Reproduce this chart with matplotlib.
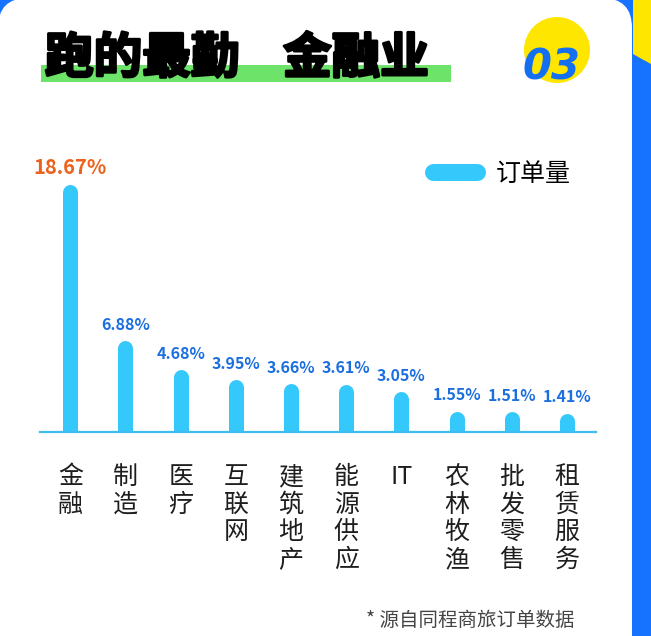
import matplotlib
matplotlib.use("Agg")
import matplotlib.pyplot as plt
from matplotlib.patches import FancyBboxPatch, Circle, Polygon, Rectangle
from matplotlib.lines import Line2D
from matplotlib.transforms import ScaledTranslation
import matplotlib.patheffects as pe

plt.rcParams['font.family'] = ['Noto Sans CJK SC', 'DejaVu Sans']

# ---------------- data ----------------
categories = ["金融", "制造", "医疗", "互联网", "建筑地产", "能源供应", "IT", "农林牧渔", "批发零售", "租赁服务"]
values = [18.67, 6.88, 4.68, 3.95, 3.66, 3.61, 3.05, 1.55, 1.51, 1.41]
series_name = "订单量"
title_left = "跑的最勤"
title_right = "金融业"
badge = "03"
footnote = "* 源自同程商旅订单数据"

W, H = 651, 636
DPI = 100
fig = plt.figure(figsize=(W / DPI, H / DPI), dpi=DPI)
fig.patch.set_facecolor("#1673ff")

# overlay axes in pixel coordinates for decoration
deco = fig.add_axes([0, 0, 1, 1], zorder=0)
deco.set_xlim(0, W)
deco.set_ylim(H, 0)
deco.axis("off")

# white card
deco.add_patch(FancyBboxPatch((-2, -2), 634, 700, boxstyle="round,pad=0,rounding_size=30",
                              fc="white", ec="none"))
# right strip yellow top
deco.add_patch(Polygon([(633, 0), (651, 0), (651, 64), (640, 58), (633, 54)], closed=True,
                       fc="#ffe600", ec="none"))
# yellow circle behind badge
deco.add_patch(Circle((557, 50), 33, fc="#ffe600", ec="none"))
# green highlight under title
deco.add_patch(Rectangle((41, 65), 410, 17, fc="#6de36a", ec="none"))

# title
stroke = [pe.withStroke(linewidth=2.0, foreground="black")]
deco.text(45, 73, title_left, fontsize=35, fontweight="heavy", color="black",
          va="baseline", ha="left", path_effects=stroke)
deco.text(283, 73, title_right, fontsize=35, fontweight="heavy", color="black",
          va="baseline", ha="left", path_effects=stroke)
# badge
deco.text(551, 80, badge, fontsize=30, fontweight="heavy", fontstyle="italic",
          family="DejaVu Sans", color="#1470f0", ha="center", va="baseline")
# footnote
deco.text(575, 626, footnote, fontsize=14, color="#444444", ha="right", va="baseline")

# ---------------- chart axes ----------------
px_left, px_right = 40, 596
px_base, px_top = 432, 140
ax = fig.add_axes([px_left / W, 1 - px_base / H, (px_right - px_left) / W, (px_base - px_top) / H],
                  zorder=2)
ax.patch.set_alpha(0)
pitch = 55.2
ax.set_xlim((px_left - 70.3) / pitch, 9 + (px_right - 567) / pitch)
ax.set_ylim(0, (px_base - px_top) / 13.25)
for s in ax.spines.values():
    s.set_visible(False)
ax.set_xticks([])
ax.set_yticks([])

x = list(range(len(values)))
bar_color = "#35c8fb"
bar_px = 15
cap_shift = ScaledTranslation(0, -bar_px / 2 / DPI, fig.dpi_scale_trans)
ax.vlines(x, 0, values, colors=bar_color, linewidth=bar_px * 72 / DPI,
          capstyle="round", transform=ax.transData + cap_shift, label=series_name)
ax.axhline(0, color="#3dbdf0", linewidth=1.6, clip_on=False)

for i, v in enumerate(values):
    first = i == 0
    ax.annotate(f"{v:.2f}%", (i, v), xytext=(0, 11), textcoords="offset pixels",
                ha="center", va="baseline", fontweight="bold",
                fontsize=14.5 if first else 11.5,
                color="#ec621c" if first else "#1b6fdf")
    ax.annotate("\n".join(categories[i]) if categories[i] != "IT" else "IT",
                (i, 0), xytext=(0, -32), textcoords="offset pixels",
                ha="center", va="top", fontsize=18, color="#1e1e1e",
                linespacing=1.08, annotation_clip=False)

# legend
handle = Line2D([0], [0], color=bar_color, linewidth=17 * 72 / DPI, solid_capstyle="round")
ax.legend([handle], [series_name], loc="center left",
          bbox_to_anchor=(433.5 / W, 1 - 173.5 / H), bbox_transform=fig.transFigure,
          frameon=False, borderpad=0, borderaxespad=0, handlelength=1.75,
          handletextpad=0.75, prop={"size": 18})

fig.savefig("out.png", dpi=DPI, facecolor=fig.get_facecolor())
